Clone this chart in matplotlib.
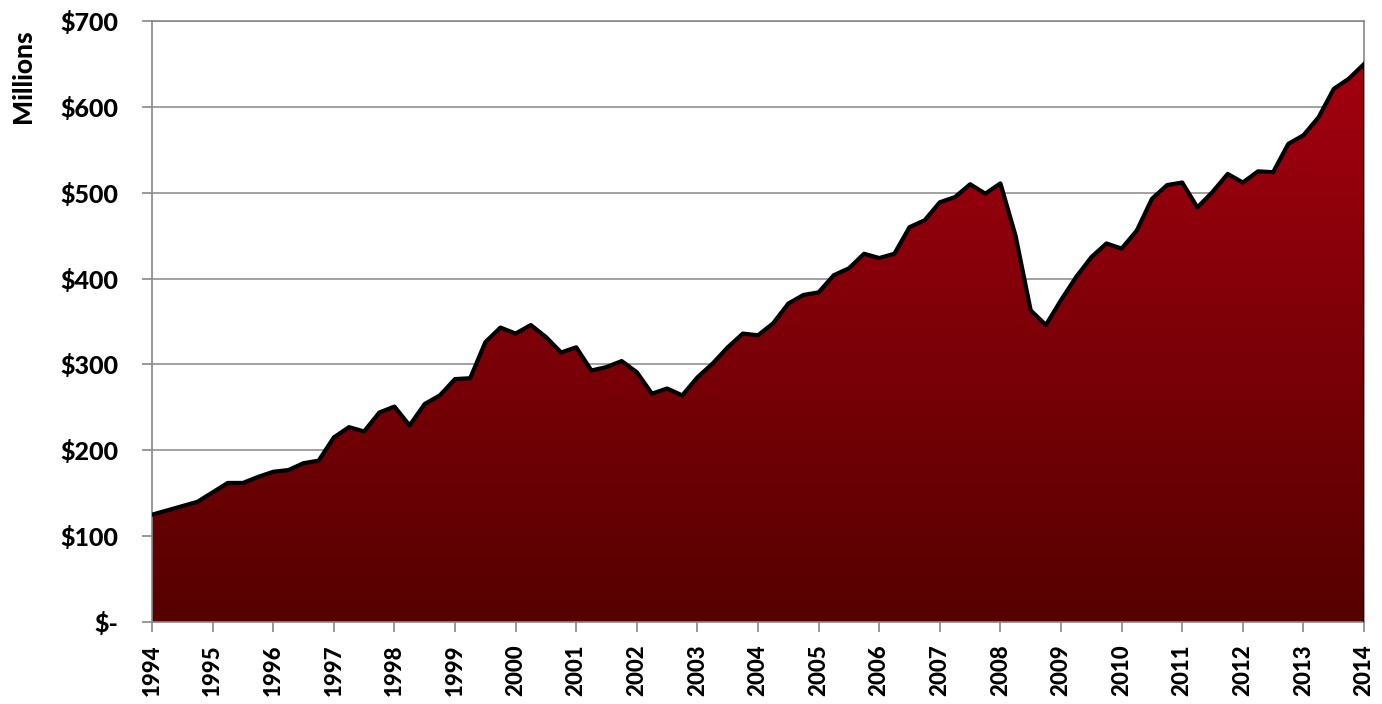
import matplotlib.pyplot as plt
import numpy as np
from matplotlib.colors import LinearSegmentedColormap

# quarterly values, $ millions, 1994 Q1 .. 2014 Q1
years = np.arange(1994, 2014.01, 0.25)
values = [125, 130, 135, 140, 151, 162, 162, 169,
          175, 177, 185, 188, 215, 227, 222, 244,
          251, 229, 254, 264, 283, 284, 326, 343,
          336, 346, 332, 314, 320, 293, 297, 304,
          291, 266, 272, 264, 285, 301, 320, 336,
          334, 348, 371, 381, 384, 404, 412, 429,
          424, 429, 460, 468, 489, 495, 510, 499,
          511, 450, 363, 346, 375, 402, 425, 441,
          435, 456, 493, 509, 512, 483, 501, 522,
          512, 525, 524, 557, 567, 588, 621, 633,
          650]
year_ticks = list(range(1994, 2015))
y_ticks = [0, 100, 200, 300, 400, 500, 600, 700]
y_labels = ["$-", "$100", "$200", "$300", "$400", "$500", "$600", "$700"]

plt.rcParams['font.family'] = ['Lato', 'DejaVu Sans']

fig = plt.figure(figsize=(13.82, 7.04), dpi=100)
ax = fig.add_axes([0.110, 0.1165, 0.877, 0.8535])

ax.set_xlim(1994, 2014)
ax.set_ylim(0, 700)

for y in y_ticks[1:]:
    ax.axhline(y, color='#9a9a9a', lw=1.3, zorder=0)

# gradient fill clipped to the area
poly = ax.fill_between(years, 0, values, color='none', lw=0, zorder=2)
cmap = LinearSegmentedColormap.from_list('red', ['#560000', '#a3000f'])
grad = np.linspace(0, 1, 256).reshape(-1, 1)
img = ax.imshow(grad, cmap=cmap, origin='lower', aspect='auto',
                extent=[1994, 2014, 0, 650], zorder=2)
img.set_clip_path(poly.get_paths()[0], transform=ax.transData)

ax.plot(years, values, color='black', lw=3, zorder=3, solid_joinstyle='round')
ax.plot([2014, 2014], [0, values[-1]], color='black', lw=1.5, zorder=3)

ax.set_yticks(y_ticks)
ax.set_yticklabels(y_labels, fontsize=18, fontweight='black')
ax.set_xticks(year_ticks)
ax.set_xticklabels([str(y) for y in year_ticks], rotation=90,
                   fontsize=16, fontweight='black')
ax.tick_params(direction='out', length=7, color='#888888', width=1.2)
ax.tick_params(axis='y', pad=17)
ax.tick_params(axis='x', pad=9)

for s in ax.spines.values():
    s.set_color('#888888')
    s.set_linewidth(1.2)

fig.text(0.017, 0.892, "Millions", rotation=90, fontsize=19,
         fontweight='black', ha='center', va='center')

fig.savefig("out.png")
